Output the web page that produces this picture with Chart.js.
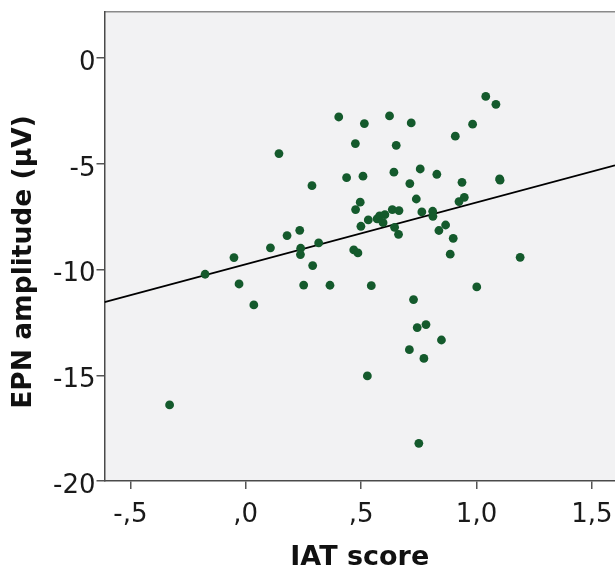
<!DOCTYPE html>
<html>
<head>
<meta charset="utf-8">
<script src="https://cdn.jsdelivr.net/npm/chart.js@4.4.0/dist/chart.umd.min.js"></script>
<style>
  html, body { margin: 0; padding: 0; background: #fff; }
  #wrap { width: 615px; height: 571px; position: relative; }
</style>
</head>
<body>
<div id="wrap"><canvas id="grafico"></canvas></div>
<script>
// Datos (IAT score vs amplitud EPN)
const iatScore = [
  1.040, 1.084, 0.403, 0.514, 0.623, 0.717, 0.983, 0.908, 0.475, 0.652,
  0.144, 0.756, 0.642, 0.828, 0.437, 0.508, 1.100, 1.102, 0.711, 0.937,
  0.287, 0.739, 0.947, 0.924, 0.496, 0.476, 0.635, 0.664, 0.763, 0.810,
  0.811, 0.531, 0.569, 0.580, 0.603, 0.595, 0.645, 0.662, 0.499, 0.866,
  0.837, 0.899, 0.886, 1.189, 0.234, 0.179, 0.316, 0.107, 0.238, 0.237,
  0.468, 0.486, -0.051, 0.290, -0.176, -0.029, 0.251, 0.365, 0.544, 1.001,
  0.035, 0.727, 0.781, 0.743, 0.848, 0.709, 0.772, 0.527, -0.330, 0.750
];
const epnAmplitude = [
  -1.81, -2.18, -2.78, -3.09, -2.73, -3.06, -3.12, -3.69, -4.04, -4.12,
  -4.51, -5.24, -5.39, -5.49, -5.65, -5.58, -5.71, -5.77, -5.93, -5.87,
  -6.03, -6.66, -6.58, -6.78, -6.81, -7.16, -7.16, -7.21, -7.27, -7.24,
  -7.48, -7.65, -7.60, -7.46, -7.40, -7.78, -8.00, -8.33, -7.95, -7.89,
  -8.15, -8.52, -9.27, -9.42, -8.14, -8.39, -8.74, -8.97, -8.99, -9.29,
  -9.07, -9.21, -9.43, -9.81, -10.22, -10.68, -10.73, -10.74, -10.76, -10.82,
  -11.67, -11.42, -12.60, -12.74, -13.33, -13.79, -14.20, -15.03, -16.40, -18.22
];

// Recta de regresión
const regIntercepto = -9.75;
const regPendiente = 2.925;

// Ejes
const xMin = -0.612, xMax = 1.6;
const yMin = -20, yMax = 2.2;
const xTickValues = [-0.5, 0, 0.5, 1.0, 1.5];
const xTickLabels = ['-,5', ',0', ',5', '1,0', '1,5'];
const yTickValues = [0, -5, -10, -15, -20];
const yTickLabels = ['0', '-5', '-10', '-15', '-20'];
const xTitulo = 'IAT score';
const yTitulo = 'EPN amplitude (µV)';

const puntos = iatScore.map((x, i) => ({ x: x, y: epnAmplitude[i] }));
const recta = [xMin, xMax].map(x => ({ x: x, y: regIntercepto + regPendiente * x }));

// Fondo gris del área del gráfico + borde superior + título del eje Y
const fondoPlugin = {
  id: 'fondo',
  beforeDraw(chart) {
    const { ctx, chartArea: a } = chart;
    ctx.save();
    ctx.fillStyle = '#f2f2f3';
    ctx.fillRect(a.left, a.top, a.right - a.left, a.bottom - a.top);
    ctx.strokeStyle = '#8a8a8a';
    ctx.lineWidth = 1.5;
    ctx.beginPath();
    ctx.moveTo(a.left, a.top);
    ctx.lineTo(a.right, a.top);
    ctx.stroke();
    ctx.restore();
  },
  afterDraw(chart) {
    const { ctx } = chart;
    ctx.save();
    ctx.translate(24, 262);
    ctx.rotate(-Math.PI / 2);
    ctx.font = 'bold 26.5px "DejaVu Sans"';
    ctx.fillStyle = '#111';
    ctx.textAlign = 'center';
    ctx.textBaseline = 'middle';
    ctx.fillText(yTitulo, 0, 0);
    ctx.restore();
  }
};

new Chart(document.getElementById('grafico'), {
  data: {
    datasets: [
      {
        type: 'scatter',
        label: 'EPN',
        data: puntos,
        backgroundColor: '#145a2c',
        borderColor: '#145a2c',
        borderWidth: 0,
        pointRadius: 4.4,
        pointHoverRadius: 4.4
      },
      {
        type: 'line',
        label: 'Regresión',
        data: recta,
        borderColor: '#000',
        borderWidth: 1.8,
        pointRadius: 0,
        fill: false
      }
    ]
  },
  options: {
    responsive: true,
    maintainAspectRatio: false,
    animation: false,
    layout: { autoPadding: false, padding: { top: 11.7, right: 0, left: 0, bottom: 0 } },
    plugins: {
      legend: { display: false },
      tooltip: { enabled: false }
    },
    scales: {
      x: {
        type: 'linear',
        min: xMin,
        max: xMax,
        afterFit: s => {
          s.height = 90;
          s.paddingLeft = 0;
          s.paddingRight = 0;
        },
        afterBuildTicks: s => { s.ticks = xTickValues.map(v => ({ value: v })); },
        ticks: {
          color: '#1a1a1a',
          font: { family: 'DejaVu Sans', size: 26 },
          padding: 11,
          maxRotation: 0,
          autoSkip: false,
          callback: (v, i) => xTickLabels[i]
        },
        grid: { drawOnChartArea: false, drawTicks: true, tickLength: 8, color: '#555', lineWidth: 1.5 },
        border: { display: true, color: '#4a4a4a', width: 1.5 },
        title: {
          display: true,
          text: xTitulo,
          color: '#111',
          font: { family: 'DejaVu Sans', size: 27, weight: 'bold', lineHeight: 1 },
          padding: { top: 0, bottom: 0 }
        }
      },
      y: {
        type: 'linear',
        min: yMin,
        max: yMax,
        afterFit: s => {
          s.width = 104.5;
          s.paddingTop = 0;
          s.paddingBottom = 0;
        },
        afterBuildTicks: s => { s.ticks = yTickValues.map(v => ({ value: v })); },
        ticks: {
          color: '#1a1a1a',
          font: { family: 'DejaVu Sans', size: 26 },
          padding: 1,
          labelOffset: 5,
          autoSkip: false,
          callback: (v, i) => yTickLabels[i]
        },
        grid: { drawOnChartArea: false, drawTicks: true, tickLength: 8, color: '#555', lineWidth: 1.5 },
        border: { display: true, color: '#4a4a4a', width: 1.5 },
        title: { display: false }
      }
    }
  },
  plugins: [fondoPlugin]
});
</script>
</body>
</html>
